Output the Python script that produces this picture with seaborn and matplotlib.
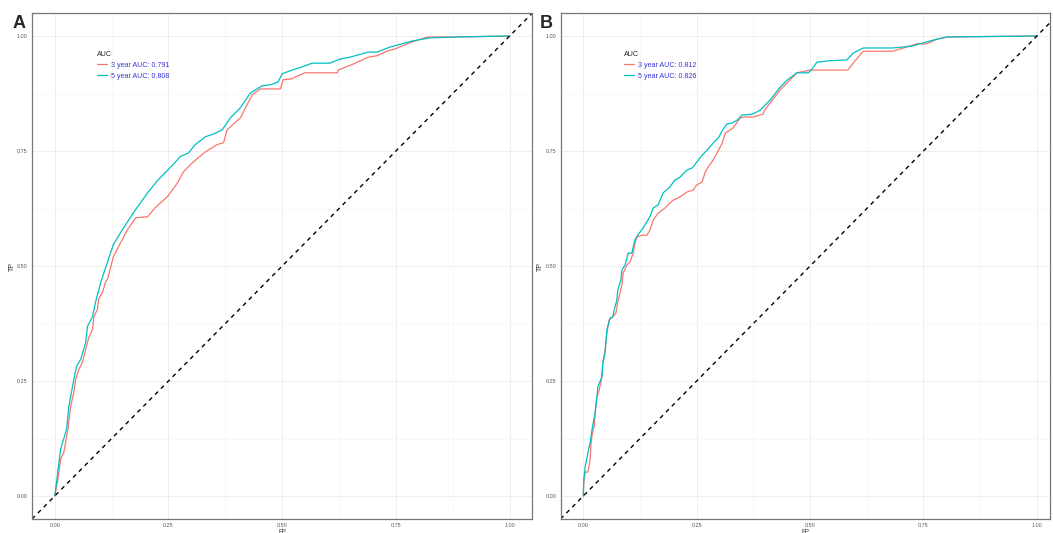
import numpy as np
import pandas as pd
import matplotlib
matplotlib.use('Agg')
import matplotlib.pyplot as plt
from matplotlib.lines import Line2D
from matplotlib.ticker import MultipleLocator, FixedLocator, FixedFormatter
import seaborn as sns

sns.set_style('white')
plt.rcParams['font.family'] = ['Liberation Sans', 'DejaVu Sans']

# ---------------- data ----------------
series_names = ['3 year', '5 year']
auc_A = [0.791, 0.808]
auc_B = [0.812, 0.826]
tick_values = [0.00, 0.25, 0.50, 0.75, 1.00]
tick_labels = ['0.00', '0.25', '0.50', '0.75', '1.00']
panel_labels = ['A', 'B']

fpA3 = [0, 0.007, 0.013, 0.020, 0.029, 0.035, 0.042, 0.046, 0.053, 0.061,
        0.068, 0.075, 0.083, 0.086, 0.094, 0.096, 0.105, 0.112, 0.116, 0.129,
        0.145, 0.160, 0.178, 0.204, 0.221, 0.248, 0.270, 0.283, 0.303, 0.331,
        0.357, 0.371, 0.379, 0.392, 0.408, 0.425, 0.434, 0.452, 0.496, 0.502,
        0.522, 0.529, 0.550, 0.621, 0.623, 0.656, 0.689, 0.708, 0.730, 0.748,
        0.785, 0.820, 0.875, 1.0]
tpA3 = [0, 0.037, 0.080, 0.095, 0.145, 0.195, 0.226, 0.254, 0.275, 0.291,
        0.319, 0.345, 0.362, 0.390, 0.406, 0.427, 0.443, 0.466, 0.471, 0.521,
        0.551, 0.579, 0.605, 0.607, 0.627, 0.651, 0.681, 0.705, 0.725, 0.748,
        0.764, 0.768, 0.796, 0.808, 0.822, 0.855, 0.872, 0.885, 0.885, 0.905,
        0.907, 0.911, 0.920, 0.920, 0.926, 0.939, 0.954, 0.957, 0.967, 0.972,
        0.987, 0.998, 0.998, 1.0]

fpA5 = [0, 0.013, 0.026, 0.031, 0.042, 0.048, 0.057, 0.068, 0.072, 0.083,
        0.090, 0.101, 0.107, 0.129, 0.145, 0.156, 0.178, 0.204, 0.228, 0.254,
        0.276, 0.294, 0.309, 0.331, 0.349, 0.368, 0.386, 0.408, 0.430, 0.456,
        0.474, 0.491, 0.500, 0.522, 0.544, 0.566, 0.605, 0.627, 0.649, 0.689,
        0.708, 0.737, 0.785, 0.825, 0.890, 1.0]
tpA5 = [0, 0.102, 0.145, 0.195, 0.254, 0.282, 0.297, 0.334, 0.369, 0.390,
        0.423, 0.464, 0.482, 0.547, 0.573, 0.590, 0.623, 0.659, 0.688, 0.714,
        0.738, 0.746, 0.764, 0.781, 0.787, 0.796, 0.822, 0.844, 0.876, 0.892,
        0.894, 0.900, 0.918, 0.926, 0.933, 0.941, 0.941, 0.950, 0.954, 0.965,
        0.965, 0.976, 0.989, 0.996, 0.998, 1.0]

fpB3 = [0, 0.001, 0.004, 0.010, 0.015, 0.017, 0.021, 0.024, 0.026, 0.030,
        0.035, 0.041, 0.043, 0.048, 0.052, 0.057, 0.065, 0.072, 0.076, 0.081,
        0.085, 0.088, 0.096, 0.103, 0.110, 0.114, 0.118, 0.129, 0.140, 0.147,
        0.154, 0.165, 0.180, 0.191, 0.198, 0.213, 0.229, 0.242, 0.250, 0.262,
        0.268, 0.275, 0.286, 0.295, 0.306, 0.313, 0.324, 0.330, 0.346, 0.357,
        0.374, 0.396, 0.400, 0.434, 0.449, 0.471, 0.500, 0.583, 0.595, 0.617,
        0.682, 0.713, 0.726, 0.735, 0.757, 0.779, 0.802, 1.0]
tpB3 = [0, 0.028, 0.052, 0.052, 0.078, 0.115, 0.143, 0.150, 0.180, 0.215,
        0.230, 0.259, 0.289, 0.317, 0.354, 0.383, 0.389, 0.398, 0.422, 0.441,
        0.459, 0.485, 0.502, 0.509, 0.528, 0.550, 0.563, 0.567, 0.567, 0.578,
        0.600, 0.615, 0.626, 0.637, 0.643, 0.650, 0.661, 0.665, 0.676, 0.683,
        0.702, 0.715, 0.730, 0.746, 0.767, 0.789, 0.796, 0.800, 0.822, 0.824,
        0.824, 0.830, 0.839, 0.883, 0.898, 0.920, 0.926, 0.926, 0.941, 0.967,
        0.967, 0.976, 0.980, 0.983, 0.983, 0.993, 0.998, 1.0]

fpB5 = [0, 0.001, 0.004, 0.010, 0.015, 0.019, 0.021, 0.026, 0.030, 0.032,
        0.041, 0.043, 0.048, 0.052, 0.059, 0.065, 0.068, 0.074, 0.076, 0.083,
        0.085, 0.092, 0.099, 0.107, 0.114, 0.120, 0.132, 0.147, 0.154, 0.165,
        0.176, 0.191, 0.202, 0.213, 0.229, 0.240, 0.250, 0.262, 0.273, 0.286,
        0.299, 0.307, 0.317, 0.328, 0.339, 0.350, 0.372, 0.383, 0.390, 0.412,
        0.434, 0.449, 0.471, 0.496, 0.504, 0.515, 0.539, 0.581, 0.595, 0.617,
        0.682, 0.704, 0.724, 0.749, 0.771, 0.802, 1.0]
tpB5 = [0, 0.035, 0.063, 0.093, 0.115, 0.143, 0.154, 0.180, 0.215, 0.237,
        0.259, 0.289, 0.311, 0.361, 0.387, 0.389, 0.404, 0.426, 0.448, 0.470,
        0.491, 0.502, 0.528, 0.528, 0.557, 0.567, 0.583, 0.607, 0.626, 0.633,
        0.659, 0.672, 0.687, 0.693, 0.709, 0.713, 0.726, 0.741, 0.752, 0.767,
        0.780, 0.796, 0.809, 0.811, 0.817, 0.828, 0.830, 0.835, 0.839, 0.861,
        0.889, 0.904, 0.920, 0.920, 0.928, 0.943, 0.946, 0.948, 0.963, 0.974,
        0.974, 0.976, 0.978, 0.985, 0.991, 0.998, 1.0]

colors = ['#F8766D', '#00BFC4']


def make_df(fp3, tp3, fp5, tp5):
    d3 = pd.DataFrame({'FP': fp3, 'TP': tp3, 'curve': series_names[0]})
    d5 = pd.DataFrame({'FP': fp5, 'TP': tp5, 'curve': series_names[1]})
    return pd.concat([d3, d5], ignore_index=True)


dfA = make_df(fpA3, tpA3, fpA5, tpA5)
dfB = make_df(fpB3, tpB3, fpB5, tpB5)

fig = plt.figure(figsize=(10.53, 5.33), dpi=100)
axA = fig.add_axes([0.0304, 0.02627, 0.4752, 0.9493])
axB = fig.add_axes([0.5324, 0.02627, 0.4648, 0.9493])


def draw(ax, df, aucs, xmax):
    ax.set_xlim(-0.05, xmax)
    ax.set_ylim(-0.05, 1.05)
    ax.xaxis.set_major_locator(FixedLocator(tick_values))
    ax.xaxis.set_major_formatter(FixedFormatter(tick_labels))
    ax.yaxis.set_major_locator(FixedLocator(tick_values))
    ax.yaxis.set_major_formatter(FixedFormatter(tick_labels))
    ax.xaxis.set_minor_locator(MultipleLocator(0.125))
    ax.yaxis.set_minor_locator(MultipleLocator(0.125))
    ax.grid(which='major', color='#ebebeb', lw=0.6)
    ax.grid(which='minor', color='#f3f3f3', lw=0.4)
    ax.tick_params(which='minor', length=0)
    ax.set_axisbelow(True)
    sns.lineplot(data=df, x='FP', y='TP', hue='curve', palette=colors,
                 sort=False, estimator=None, legend=False, lw=0.9, ax=ax)
    ax.axline((0, 0), slope=1, color='black', ls=(0, (3, 3)), lw=1.0)
    ax.tick_params(which='major', length=2.2, width=0.6, color='#555555',
                   labelsize=3.9, labelcolor='#555555', pad=1)
    ax.set_xlabel('FP', fontsize=4.5, labelpad=0.3)
    ax.set_ylabel('TP', fontsize=5, labelpad=0.8)
    for s in ax.spines.values():
        s.set_color('#777777')
        s.set_linewidth(0.9)
    handles = [Line2D([0], [0], color=c, lw=0.9) for c in colors]
    labels = [f'{n} AUC: {a:.3f}' for n, a in zip(series_names, aucs)]
    leg = ax.legend(handles, labels, title='AUC', loc='upper left',
                    bbox_to_anchor=(0.13, 0.925), frameon=False,
                    fontsize=5.1, title_fontsize=5.1, labelcolor='#3636dd',
                    handlelength=1.4, handletextpad=0.5, labelspacing=0.55,
                    borderpad=0, borderaxespad=0)
    leg._legend_box.align = 'left'


draw(axA, dfA, auc_A, 1.05)
draw(axB, dfB, auc_B, 1.029)

fig.text(0.012, 1 - 28 / 533, panel_labels[0], fontsize=13, fontweight='bold', va='baseline')
fig.text(0.513, 1 - 28 / 533, panel_labels[1], fontsize=13, fontweight='bold', va='baseline')

fig.savefig('out.png', dpi=100)
